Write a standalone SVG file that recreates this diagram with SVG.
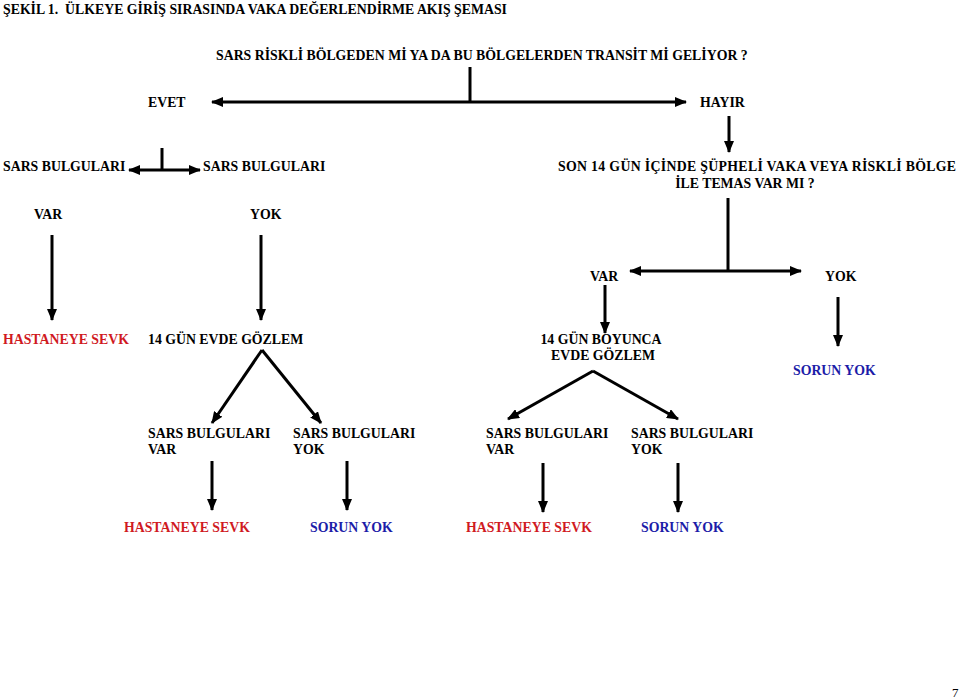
<svg xmlns="http://www.w3.org/2000/svg" width="960" height="700" viewBox="0 0 960 700">
<style>
text{font-family:"Liberation Serif","Times New Roman",serif;font-weight:bold;font-size:13.8px;fill:#000}
.r{fill:#d01a1f}
.b{fill:#1c1ca8}
.c{text-anchor:middle}
.ln{stroke:#000;stroke-width:3;fill:none}
.ar{stroke:#000;stroke-width:3;fill:none;marker-end:url(#ah)}
</style>
<defs>
<marker id="ah" markerUnits="userSpaceOnUse" viewBox="0 0 12 10" refX="11" refY="5" markerWidth="12" markerHeight="10" orient="auto">
<path d="M0,0 L12,5 L0,10 Z" fill="#000"/>
</marker>
</defs>
<rect width="960" height="700" fill="#fff"/>
<text x="3" y="14">ŞEKİL 1.&#160; ÜLKEYE GİRİŞ SIRASINDA VAKA DEĞERLENDİRME AKIŞ ŞEMASI</text>
<g id="q1"><text x="216" y="60">SARS RİSKLİ BÖLGEDEN Mİ YA DA BU BÖLGELERDEN TRANSİT Mİ GELİYOR ?</text></g>
<g id="evet"><text x="148" y="107">EVET</text></g>
<g id="hayir"><text x="700" y="107">HAYIR</text></g>
<g id="sb1"><text x="3" y="171">SARS BULGULARI</text></g>
<g id="sb2"><text x="203" y="171">SARS BULGULARI</text></g>
<g id="var1"><text x="34" y="219">VAR</text></g>
<g id="yok1"><text x="250" y="219">YOK</text></g>
<g id="q2"><text x="558" y="171" textLength="398" lengthAdjust="spacing">SON 14 GÜN İÇİNDE ŞÜPHELİ VAKA VEYA RİSKLİ BÖLGE</text><text x="745" y="188" class="c">İLE TEMAS VAR MI ?</text></g>
<g id="var2"><text x="590" y="281">VAR</text></g>
<g id="yok2"><text x="825" y="281">YOK</text></g>
<g id="hs1"><text x="3" y="344" class="r">HASTANEYE SEVK</text></g>
<g id="eg1"><text x="148" y="344">14 GÜN EVDE GÖZLEM</text></g>
<g id="eg2"><text x="601" y="344" class="c">14 GÜN BOYUNCA</text><text x="603" y="360" class="c">EVDE GÖZLEM</text></g>
<g id="sy1"><text x="793" y="375" class="b">SORUN YOK</text></g>
<g id="s1"><text x="148" y="438">SARS BULGULARI</text><text x="148" y="454">VAR</text></g>
<g id="s2"><text x="293" y="438">SARS BULGULARI</text><text x="293" y="454">YOK</text></g>
<g id="s3"><text x="486" y="438">SARS BULGULARI</text><text x="486" y="454">VAR</text></g>
<g id="s4"><text x="631" y="438">SARS BULGULARI</text><text x="631" y="454">YOK</text></g>
<g id="hs2"><text x="124" y="532" class="r">HASTANEYE SEVK</text></g>
<g id="sy2"><text x="310" y="532" class="b">SORUN YOK</text></g>
<g id="hs3"><text x="466" y="532" class="r">HASTANEYE SEVK</text></g>
<g id="sy3"><text x="641" y="532" class="b">SORUN YOK</text></g>
<text x="952" y="697" style="font-weight:normal;font-size:13px">7</text>
<g id="connectors">
<line class="ln" x1="470" y1="67" x2="470" y2="102"/>
<line class="ar" x1="470" y1="102" x2="212" y2="102"/>
<line class="ar" x1="470" y1="102" x2="686" y2="102"/>
<line class="ar" x1="729" y1="116" x2="729" y2="152"/>
<line class="ln" x1="162" y1="148" x2="162" y2="170"/>
<line class="ar" x1="162" y1="170" x2="129" y2="170"/>
<line class="ar" x1="162" y1="170" x2="200" y2="170"/>
<line class="ar" x1="52" y1="235" x2="52" y2="320"/>
<line class="ar" x1="261" y1="235" x2="261" y2="320"/>
<line class="ln" x1="728" y1="198" x2="728" y2="271"/>
<line class="ar" x1="728" y1="271" x2="630" y2="271"/>
<line class="ar" x1="728" y1="271" x2="801" y2="271"/>
<line class="ar" x1="605" y1="285" x2="605" y2="333"/>
<line class="ar" x1="838" y1="297" x2="838" y2="346"/>
<line class="ar" x1="262" y1="350" x2="212" y2="423"/>
<line class="ar" x1="262" y1="350" x2="321" y2="423"/>
<line class="ar" x1="593" y1="371" x2="508" y2="419"/>
<line class="ar" x1="593" y1="371" x2="678" y2="419"/>
<line class="ar" x1="212" y1="461" x2="212" y2="510"/>
<line class="ar" x1="347" y1="461" x2="347" y2="510"/>
<line class="ar" x1="543" y1="463" x2="543" y2="512"/>
<line class="ar" x1="678" y1="463" x2="678" y2="512"/>
</g>
</svg>
